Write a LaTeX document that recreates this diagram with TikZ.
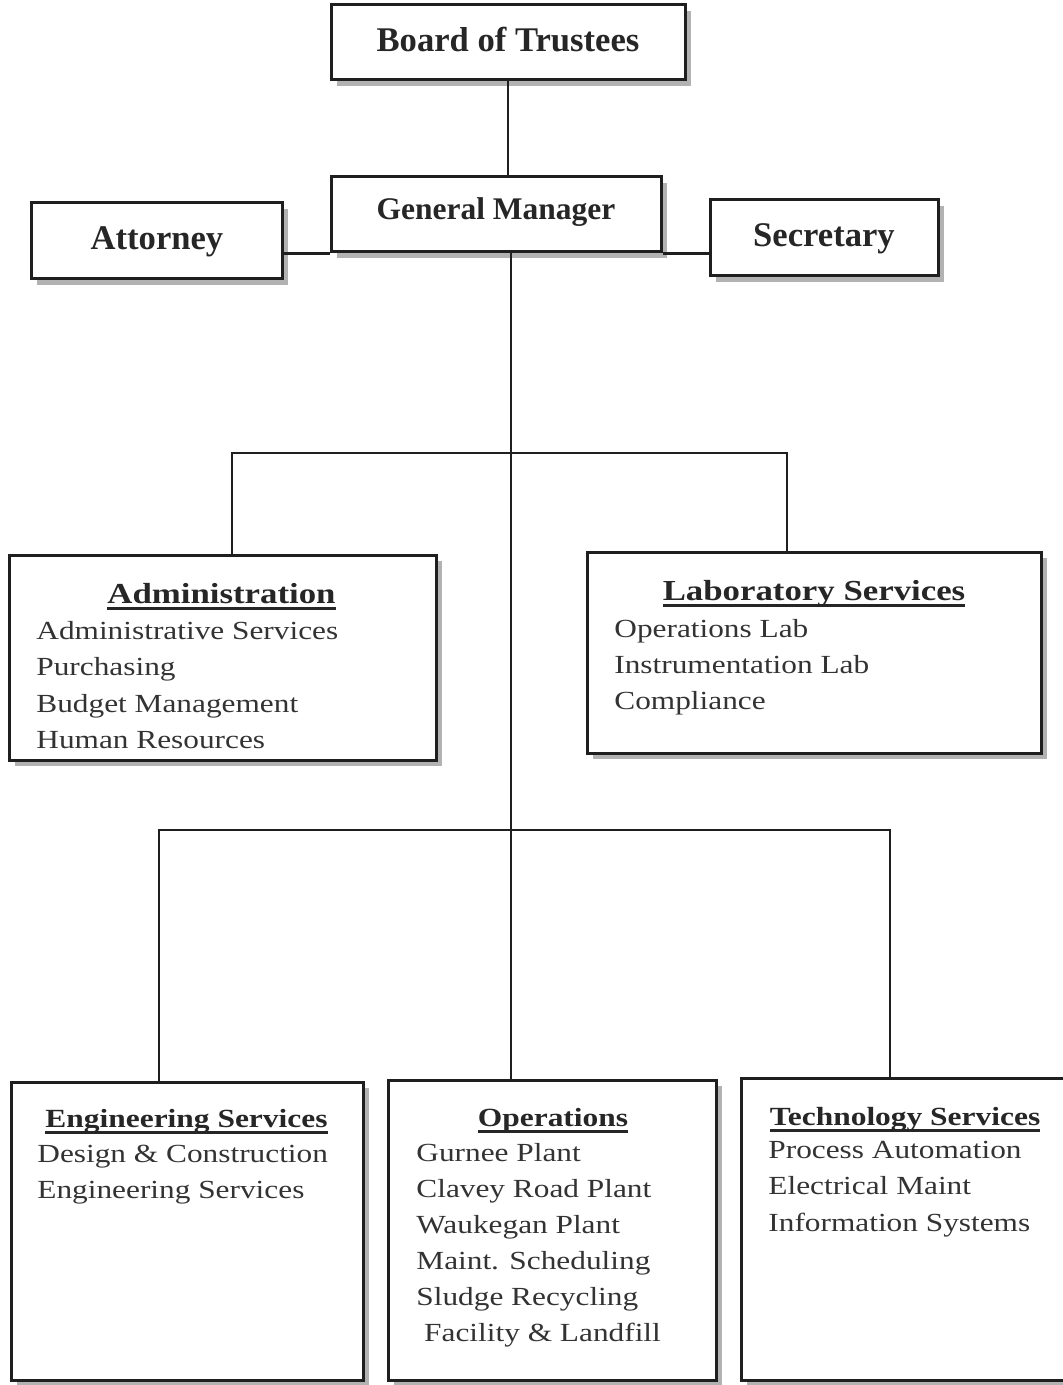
\documentclass[tikz,border=0pt]{standalone}
\usepackage{fontspec}
\setmainfont{Liberation Serif}
\newfontfamily\widefont{Liberation Serif}[FakeStretch=1.2]
\newcommand{\ulbar}[1]{\setbox0\hbox{#1}\leavevmode\rlap{\vrule width\wd0 height -1.8pt depth 3.3pt}\box0}
\usetikzlibrary{positioning,shadows}

\tikzset{
  box/.style={draw=black!88, line width=1.5pt, fill=white, inner sep=0pt,
    drop shadow={shadow xshift=3pt, shadow yshift=-3pt, fill=black!30, opacity=1}},
  bigtitle/.style={anchor=base, text=black!85, font=\fontsize{17.3}{20}\selectfont\bfseries},
  gmtitle/.style={anchor=base, text=black!85, font=\fontsize{15.75}{18}\selectfont\bfseries},
  midtitle/.style={anchor=base, text=black!85, font=\widefont\fontsize{14.5}{17}\selectfont\bfseries},
  lowtitle/.style={anchor=base, text=black!85, font=\widefont\fontsize{13.1}{16}\selectfont\bfseries},
  item/.style={anchor=base west, inner sep=0pt, text=black!80, font=\widefont\fontsize{13.05}{16}\selectfont},
  link/.style={draw=black!88, line width=1.1pt}
}

\begin{document}
\begin{tikzpicture}[x=0.5pt,y=-0.5pt]
\clip (0,0) rectangle (1063,1385);

\node[box, minimum width=177pt, minimum height=37.5pt] (bt) at (508,42.5) {};
\node[box, minimum width=165pt, minimum height=37.5pt] (gm) at (496,214.5) {};
\node[box, minimum width=125.5pt, minimum height=38pt] (att) at (156.5,241) {};
\node[box, minimum width=114pt, minimum height=38pt] (sec) at (824,238) {};
\node[box, minimum width=213.5pt, minimum height=102.5pt] (adm) at (222.5,657.5) {};
\node[box, minimum width=227pt, minimum height=100.5pt] (lab) at (814,652.5) {};
\node[box, minimum width=176pt, minimum height=149pt] (eng) at (187,1231) {};
\node[box, minimum width=164pt, minimum height=150pt] (ops) at (552,1230) {};
\node[box, minimum width=167pt, minimum height=151pt] (tec) at (908,1229.5) {};

\coordinate (j1) at (511,453);
\coordinate (j2) at (511,830);
\coordinate (ladm) at (232,453);
\coordinate (llab) at (787,453);
\coordinate (leng) at (159,830);
\coordinate (ltec) at (890,830);

\draw[link] (bt.south) -- (bt.south |- gm.north);
\draw[link] (gm.south west) -- (gm.south west -| att.east);
\draw[link] (gm.south east) -- (gm.south east -| sec.west);
\draw[link] (gm.south -| j1) -- (j1) -- (j2) -- (j2 |- ops.north);
\draw[link] (adm.north -| ladm) -- (ladm) -- (llab) -- (lab.north -| llab);
\draw[link] (eng.north -| leng) -- (leng) -- (ltec) -- (tec.north -| ltec);

\node[bigtitle] (btt) at (508,52) {Board of Trustees};
\node[gmtitle] (gmt) at (496,220) {General Manager};
\node[bigtitle] (attt) at (157,250) {Attorney};
\node[bigtitle] (sect) at (824,247) {Secretary};

\node[midtitle] (admt) at (221.5,603) {\ulbar{Administration}};
\foreach \t [count=\i] in {Administrative Services, Purchasing, Budget Management, Human Resources}
  \node[item] (adm\i) at (36,602.5+36.5*\i) {\t};

\node[midtitle] (labt) at (814,600) {\ulbar{Laboratory Services}};
\foreach \t [count=\i] in {Operations Lab, Instrumentation Lab, Compliance}
  \node[item] (lab\i) at (614,601+36*\i) {\t};

\node[lowtitle] (engt) at (186.5,1127) {\ulbar{Engineering Services}};
\foreach \t [count=\i] in {Design \& Construction, Engineering Services}
  \node[item] (eng\i) at (37,1126+36*\i) {\t};

\node[lowtitle] (opst) at (553,1126) {\ulbar{Operations}};
\foreach \t [count=\i] in {Gurnee Plant, Clavey Road Plant, Waukegan Plant, Maint. Scheduling, Sludge Recycling, \ Facility \& Landfill}
  \node[item] (ops\i) at (416,1125+36*\i) {\t};

\node[lowtitle] (tect) at (905,1125) {\ulbar{Technology Services}};
\foreach \t [count=\i] in {Process Automation, Electrical Maint, Information Systems}
  \node[item] (tec\i) at (768,1121.5+36.5*\i) {\t};
\end{tikzpicture}
\end{document}
